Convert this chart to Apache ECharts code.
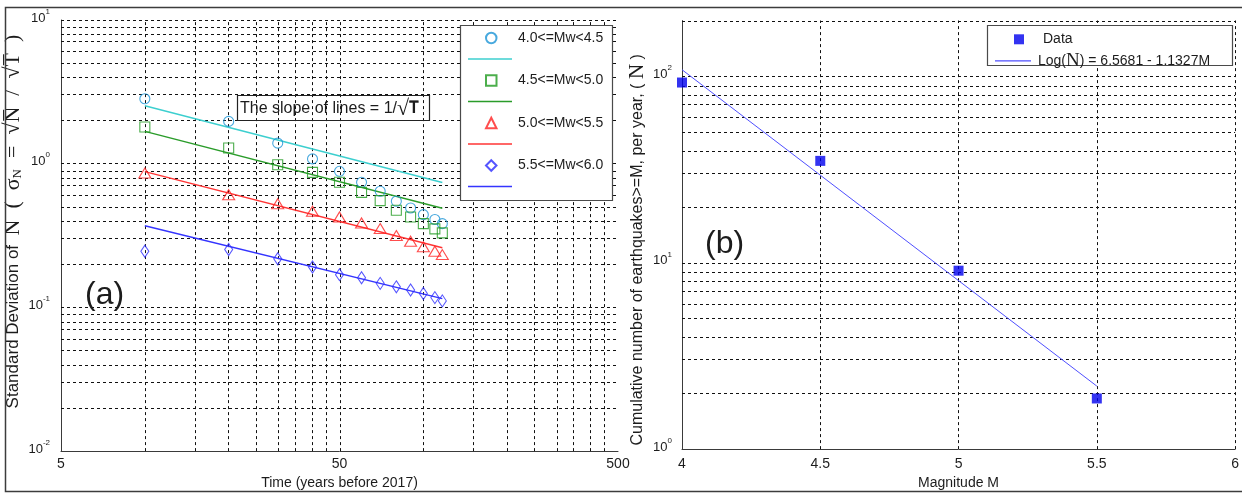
<!DOCTYPE html>
<html>
<head>
<meta charset="utf-8">
<script src="https://cdn.jsdelivr.net/npm/echarts@6/dist/echarts.min.js"></script>
<style>
  html, body { margin: 0; padding: 0; background: #fff; }
  #chart { width: 1242px; height: 495px; }
</style>
</head>
<body>
<div id="chart"></div>
<script>
// ---- Panel (a): standard deviation of N against the length of the time window ----
const timeYears = [10, 20, 30, 40, 50, 60, 70, 80, 90, 100, 110, 117];
const sdMw40 = [2.83, 1.97, 1.39, 1.08, 0.885, 0.742, 0.643, 0.548, 0.492, 0.442, 0.409, 0.383];
const sdMw45 = [1.80, 1.285, 0.984, 0.870, 0.742, 0.632, 0.553, 0.474, 0.426, 0.383, 0.352, 0.330];
const sdMw50 = [0.861, 0.609, 0.527, 0.467, 0.426, 0.387, 0.354, 0.316, 0.289, 0.264, 0.246, 0.233];
const sdMw55 = [0.246, 0.253, 0.218, 0.191, 0.169, 0.161, 0.147, 0.139, 0.132, 0.125, 0.117, 0.111];
const binNames = ['4.0<=Mw<4.5', '4.5<=Mw<5.0', '5.0<=Mw<5.5', '5.5<=Mw<6.0'];

// reference lines of slope 1/sqrt(T), given by their end points
const refT = [10, 117];
const refMw40 = [2.53, 0.74];
const refMw45 = [1.68, 0.49];
const refMw50 = [0.88, 0.26];
const refMw55 = [0.37, 0.115];

// axis ticks and grid positions of panel (a)
const timeTicks = [5, 50, 500];
const timeGrid = [10, 15, 20, 25, 30, 35, 40, 45, 50, 100, 150, 200, 250, 300, 350, 400, 450, 500];
const sdTickExps = [-2, -1, 0, 1];
const sdDecades = [0.01, 0.1, 1];

// ---- Panel (b): cumulative number of events per year and Gutenberg-Richter fit ----
const magnitudes = [4.0, 4.5, 5.0, 5.5];
const cumulativeN = [93, 35.3, 9.08, 1.87];
const fitA = 6.5681;
const fitB = 1.1327;
const fitRangeM = [4.0, 5.5];

const magTicks = [4, 4.5, 5, 5.5, 6];
const magGrid = [4.5, 5, 5.5, 6];
const countTickExps = [0, 1, 2];
const countDecades = [1, 10];
const countMax = 200;

// ------------------------------------------------------------------
const LOG = Math.log10;
const TEXT = '#1c1c1c';
const AXIS = '#3a3a3a';
const SANS = '"Liberation Sans", Arial, Helvetica, sans-serif';
const SERIF = '"Liberation Serif", "Times New Roman", serif';

const pairs = (xs, ys) => xs.map((x, i) => [LOG(x), LOG(ys[i])]);

function decadeGrid(decades, top) {
  const out = [];
  decades.forEach((d, di) => {
    for (let k = 1; k <= 9; k++) {
      if (di === 0 && k === 1) continue;   // lower limit is the axis line itself
      out.push(k * d);
    }
  });
  out.push(top);
  return out;
}
const sdGrid = decadeGrid(sdDecades, 10);
const countGrid = decadeGrid(countDecades, 100).concat([countMax]);

const dotted = { color: '#111', width: 1, type: [3, 3] };
function gridMarks(xs, ys, xf, yf) {
  return {
    silent: true, symbol: 'none', z: 1, animation: false,
    label: { show: false },
    lineStyle: dotted,
    emphasis: { disabled: true },
    data: xs.map(v => ({ xAxis: xf(v) })).concat(ys.map(v => ({ yAxis: yf(v) })))
  };
}

const powLabel = v => '{b|10}{e|' + Math.round(v) + '}';
const powRich = {
  b: { fontSize: 13, fontFamily: SANS, color: TEXT, verticalAlign: 'bottom', lineHeight: 17 },
  e: { fontSize: 8, fontFamily: SANS, color: TEXT, verticalAlign: 'top', lineHeight: 17 }
};

const markerStyles = [
  { symbol: 'circle', size: 10, color: '#1a94d6' },
  { symbol: 'rect', size: 10, color: '#1f9a1f' },
  { symbol: 'triangle', size: [12, 10], color: '#ff2020' },
  { symbol: 'diamond', size: [8, 12], color: '#2b2bff' }
];
const lineColors = ['#3ccfcf', '#2a9c2a', '#ff3434', '#3434ff'];
const binValues = [sdMw40, sdMw45, sdMw50, sdMw55];
const refValues = [refMw40, refMw45, refMw50, refMw55];
const refNames = binNames.map(n => 'fit ' + n);

const series = [];
binValues.forEach((vals, i) => {
  const m = markerStyles[i];
  const s = {
    name: binNames[i], type: 'scatter', xAxisIndex: 0, yAxisIndex: 0, z: 3,
    symbol: m.symbol, symbolSize: m.size,
    itemStyle: { color: 'rgba(0,0,0,0)', borderColor: m.color, borderWidth: 1.1 },
    data: pairs(timeYears, vals)
  };
  if (i === 0) s.markLine = gridMarks(timeGrid, sdGrid, LOG, LOG);
  series.push(s);
});
refValues.forEach((vals, i) => {
  series.push({
    name: refNames[i], type: 'line', xAxisIndex: 0, yAxisIndex: 0, z: 2,
    symbol: 'none', showSymbol: false,
    lineStyle: { color: lineColors[i], width: 1.4 },
    itemStyle: { color: lineColors[i] },
    data: pairs(refT, vals)
  });
});

const fitName = 'Log(N) = ' + fitA + ' - ' + fitB + 'M';
series.push({
  name: 'Data', type: 'scatter', xAxisIndex: 1, yAxisIndex: 1, z: 3,
  symbol: 'rect', symbolSize: 10,
  itemStyle: { color: '#0000ee' },
  data: magnitudes.map((m, i) => [m, LOG(cumulativeN[i])]),
  markLine: gridMarks(magGrid, countGrid, v => v, LOG)
});
series.push({
  name: fitName, type: 'line', xAxisIndex: 1, yAxisIndex: 1, z: 2,
  symbol: 'none', showSymbol: false,
  lineStyle: { color: '#4f4fff', width: 1 },
  itemStyle: { color: '#4f4fff' },
  // the fitted relation stated in the legend, evaluated at its two end magnitudes
  data: fitRangeM.map(m => [m, fitA - fitB * m])
});

const axisName = { color: TEXT, fontFamily: SANS, fontSize: 14 };
const legendText = { color: TEXT, fontFamily: SANS, fontSize: 14, lineHeight: 16 };

const option = {
  animation: false,
  backgroundColor: '#fff',
  grid: [
    { left: 61, width: 557, top: 20, height: 432 },
    { left: 682, width: 555, top: 20.6, height: 431.4 }
  ],
  xAxis: [
    {
      gridIndex: 0, type: 'value', min: LOG(5), max: LOG(500),
      splitLine: { show: false }, axisTick: { show: false },
      axisLine: { show: true, onZero: false, lineStyle: { color: AXIS, width: 1 } },
      axisLabel: {
        customValues: timeTicks.map(LOG),
        formatter: v => String(Math.round(Math.pow(10, v))),
        color: TEXT, fontFamily: SANS, fontSize: 14, margin: 6
      },
      name: 'Time (years before 2017)', nameLocation: 'middle', nameGap: 24,
      nameTextStyle: axisName
    },
    {
      gridIndex: 1, type: 'value', min: 4, max: 6, interval: 0.5,
      splitLine: { show: false }, axisTick: { show: false },
      axisLine: { show: true, onZero: false, lineStyle: { color: AXIS, width: 1 } },
      axisLabel: {
        customValues: magTicks,
        formatter: v => String(v),
        color: TEXT, fontFamily: SANS, fontSize: 14, margin: 8
      },
      name: 'Magnitude M', nameLocation: 'middle', nameGap: 26,
      nameTextStyle: axisName
    }
  ],
  yAxis: [
    {
      gridIndex: 0, type: 'value', min: -2, max: 1, interval: 1,
      splitLine: { show: false }, axisTick: { show: false },
      axisLine: { show: true, onZero: false, lineStyle: { color: AXIS, width: 1 } },
      axisLabel: {
        customValues: sdTickExps, formatter: powLabel, rich: powRich,
        margin: 11, padding: [0, 0, 8, 0]
      },
      name: '{a|Standard Deviation of  }{n|N  (  σ}{s|N}{n|  =  √N\u0305  /  √T\u0305  )}',
      nameLocation: 'middle', nameGap: 33,
      nameTextStyle: {
        padding: [0, 0, 0, 28],
        rich: {
          a: { fontFamily: SANS, fontSize: 17, color: TEXT },
          n: { fontFamily: SERIF, fontSize: 22, color: TEXT },
          s: { fontFamily: SERIF, fontSize: 13, color: TEXT, verticalAlign: 'bottom', padding: [9, 0, 0, 0] }
        }
      }
    },
    {
      gridIndex: 1, type: 'value', min: 0, max: LOG(countMax),
      splitLine: { show: false }, axisTick: { show: false },
      axisLine: { show: true, onZero: false, lineStyle: { color: AXIS, width: 1 } },
      axisLabel: {
        customValues: countTickExps, formatter: powLabel, rich: powRich,
        margin: 10, padding: [0, 0, 8, 0]
      },
      name: '{a|Cumulative number of earthquakes>=M, per year, ( }{n|N}{a| )}',
      nameLocation: 'middle', nameGap: 34,
      nameTextStyle: {
        padding: [0, 30, 0, 0],
        rich: {
          a: { fontFamily: SANS, fontSize: 16, color: TEXT },
          n: { fontFamily: SERIF, fontSize: 21, color: TEXT }
        }
      }
    }
  ],
  legend: [
    // marker rows of panel (a)
    {
      data: binNames, orient: 'vertical', left: 485, top: 30, padding: 0,
      itemWidth: 10.5, itemHeight: 10.5, itemGap: 26.5, z: 5,
      selectedMode: false,
      textStyle: Object.assign({ padding: [0, 0, 0, 16.5] }, legendText)
    },
    // line rows of panel (a)
    {
      data: refNames.map(n => ({ name: n, icon: 'rect' })),
      orient: 'vertical', left: 468, top: 51, padding: 0,
      itemWidth: 44, itemHeight: 1.6, itemGap: 26.5, z: 5,
      selectedMode: false, formatter: () => ' ',
      textStyle: legendText
    },
    // panel (b): data marker row
    {
      data: ['Data'], orient: 'vertical', left: 1014, top: 31.3, padding: 0,
      itemWidth: 10, itemHeight: 10, z: 5, selectedMode: false,
      textStyle: Object.assign({ padding: [0, 0, 0, 14] }, legendText)
    },
    // panel (b): fitted line row
    {
      data: [{ name: fitName, icon: 'rect' }], orient: 'vertical', left: 995, top: 51.3, padding: 0,
      itemWidth: 36, itemHeight: 1.2, z: 5, selectedMode: false,
      formatter: () => '{p|Log(}{n|N}{p|) = ' + fitA + ' - ' + fitB + 'M}',
      textStyle: Object.assign({
        padding: [0, 0, 0, 2],
        rich: {
          p: { fontFamily: SANS, fontSize: 14, color: TEXT },
          n: { fontFamily: SERIF, fontSize: 19, color: TEXT }
        }
      }, legendText)
    }
  ],
  graphic: [
    // outer frame around both panels
    { type: 'rect', z: 10, silent: true,
      shape: { x: 5.5, y: 7.5, width: 1250, height: 484 },
      style: { fill: 'none', stroke: '#3c3c3c', lineWidth: 1.5 } },
    // legend boxes
    { type: 'rect', z: 3, silent: true,
      shape: { x: 460.5, y: 25.5, width: 152, height: 175 },
      style: { fill: '#fff', stroke: '#4a4a4a', lineWidth: 1.2 } },
    { type: 'rect', z: 3, silent: true,
      shape: { x: 987.5, y: 25.5, width: 245, height: 40 },
      style: { fill: '#fff', stroke: '#4a4a4a', lineWidth: 1.2 } },
    // slope annotation
    { type: 'rect', z: 4, silent: true,
      shape: { x: 237.5, y: 95.5, width: 192, height: 25 },
      style: { fill: 'none', stroke: '#222', lineWidth: 1.2 } },
    { type: 'text', z: 4, silent: true, left: 240, top: 98,
      style: {
        text: 'The slope of lines = 1/{r|√}{t|T\u0305}',
        fill: TEXT, font: '16px ' + SANS,
        rich: {
          r: { fontFamily: SERIF, fontSize: 22, fill: TEXT },
          t: { fontFamily: SANS, fontSize: 16, fontWeight: 'bold', fill: TEXT }
        }
      } },
    // panel tags
    { type: 'text', z: 4, silent: true, left: 85, top: 279,
      style: { text: '(a)', fill: TEXT, font: '32px ' + SANS } },
    { type: 'text', z: 4, silent: true, left: 705, top: 228,
      style: { text: '(b)', fill: TEXT, font: '32px ' + SANS } }
  ],
  series
};

const chart = echarts.init(document.getElementById('chart'));
chart.setOption(option);
</script>
</body>
</html>
